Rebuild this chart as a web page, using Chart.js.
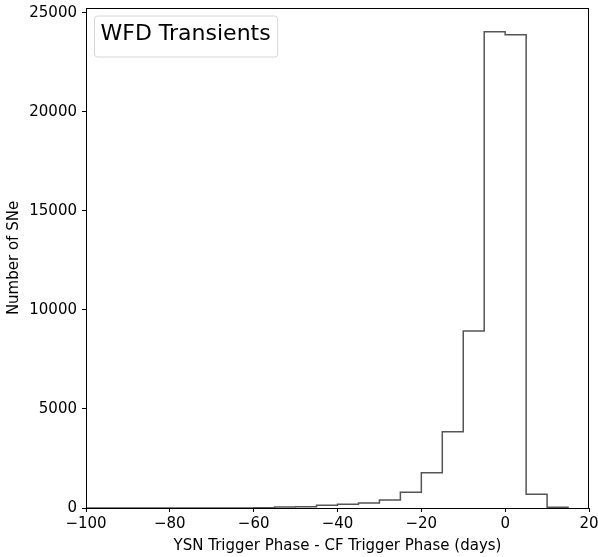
<!DOCTYPE html>
<html>
<head>
<meta charset="utf-8">
<script src="https://cdn.jsdelivr.net/npm/chart.js@4/dist/chart.umd.min.js"></script>
<style>
  html, body { margin: 0; padding: 0; background: #fff; }
  #wrap { width: 598px; height: 557px; position: relative; }
</style>
</head>
<body>
<div id="wrap"><canvas id="histChart"></canvas></div>
<script>
// bin edges (days) and counts
const binEdges = [-100, -95, -90, -85, -80, -75, -70, -65, -60, -55, -50, -45, -40,
                  -35, -30, -25, -20, -15, -10, -5, 0, 5, 10, 15];
const binCounts = [0, 0, 0, 0, 0, 0, 2, 4, 12, 45, 65, 135, 185,
                   255, 405, 795, 1775, 3850, 8930, 24040, 23890, 695, 35];
const xTicks = [-100, -80, -60, -40, -20, 0, 20];
const yTicks = [0, 5000, 10000, 15000, 20000, 25000];
const seriesLabel = 'WFD Transients';

// step outline like matplotlib histtype='step'
const stepPoints = [{ x: binEdges[0], y: 0 }];
binCounts.forEach((c, i) => stepPoints.push({ x: binEdges[i], y: c }));
stepPoints.push({ x: binEdges[binEdges.length - 1], y: 0 });

const FONT = 'DejaVu Sans';
const minus = v => String(v).replace('-', '\u2212');

// frame around the plot area + legend box inside it
const framePlugin = {
  id: 'frame',
  afterDatasetsDraw(chart) {
    const { ctx, chartArea: a } = chart;
    ctx.save();
    ctx.strokeStyle = '#000';
    ctx.lineWidth = 1;
    ctx.strokeRect(Math.round(a.left) + 0.5, Math.round(a.top) + 0.5,
                   Math.round(a.right - a.left) - 1, Math.round(a.bottom - a.top));
    // legend
    const label = chart.data.datasets[0].label;
    ctx.font = '22px "' + FONT + '"';
    const tw = ctx.measureText(label).width;
    const bx = a.left + 8.5, by = a.top + 8, bw = tw + 13, bh = 41, r = 3;
    ctx.beginPath();
    ctx.moveTo(bx + r, by);
    ctx.arcTo(bx + bw, by, bx + bw, by + bh, r);
    ctx.arcTo(bx + bw, by + bh, bx, by + bh, r);
    ctx.arcTo(bx, by + bh, bx, by, r);
    ctx.arcTo(bx, by, bx + bw, by, r);
    ctx.closePath();
    ctx.fillStyle = 'rgba(255,255,255,0.8)';
    ctx.fill();
    ctx.strokeStyle = '#d6d6d6';
    ctx.stroke();
    ctx.fillStyle = '#000';
    ctx.textBaseline = 'alphabetic';
    ctx.fillText(label, bx + 6, by + 24);
    ctx.restore();
  }
};

new Chart(document.getElementById('histChart').getContext('2d'), {
  type: 'line',
  data: {
    datasets: [{
      label: seriesLabel,
      data: stepPoints,
      stepped: 'before',
      borderColor: '#555555',
      borderWidth: 1.5,
      pointRadius: 0,
      fill: false,
      tension: 0
    }]
  },
  options: {
    responsive: true,
    maintainAspectRatio: false,
    animation: false,
    layout: { padding: { top: 8, right: 9, left: 0, bottom: 0 } },
    plugins: {
      legend: { display: false },
      tooltip: { enabled: false }
    },
    scales: {
      x: {
        type: 'linear',
        min: -100,
        max: 20,
        afterBuildTicks: s => { s.ticks = xTicks.map(v => ({ value: v })); },
        afterFit: s => { s.height = 49; s.paddingLeft = 0; s.paddingRight = 0; },
        border: { display: false },
        grid: { drawOnChartArea: false, drawTicks: true, tickLength: 4, color: '#000', lineWidth: 1 },
        ticks: {
          color: '#000', padding: 3, maxRotation: 0, autoSkip: false,
          font: { family: FONT, size: 15 },
          callback: v => minus(v)
        },
        title: {
          display: true,
          text: 'YSN Trigger Phase - CF Trigger Phase (days)',
          color: '#000',
          font: { family: FONT, size: 15 },
          padding: { top: 0, bottom: 2 }
        }
      },
      y: {
        type: 'linear',
        min: 0,
        max: 25240,
        afterBuildTicks: s => { s.ticks = yTicks.map(v => ({ value: v })); },
        afterFit: s => { s.width = 86; s.paddingTop = 0; s.paddingBottom = 0; },
        border: { display: false },
        grid: { drawOnChartArea: false, drawTicks: true, tickLength: 4, color: '#000', lineWidth: 1 },
        ticks: {
          color: '#000', padding: 5, autoSkip: false,
          font: { family: FONT, size: 15 },
          callback: v => minus(v)
        },
        title: {
          display: true,
          text: 'Number of SNe',
          color: '#000',
          font: { family: FONT, size: 15 },
          padding: { top: 5, bottom: 0 }
        }
      }
    }
  },
  plugins: [framePlugin]
});
</script>
</body>
</html>
